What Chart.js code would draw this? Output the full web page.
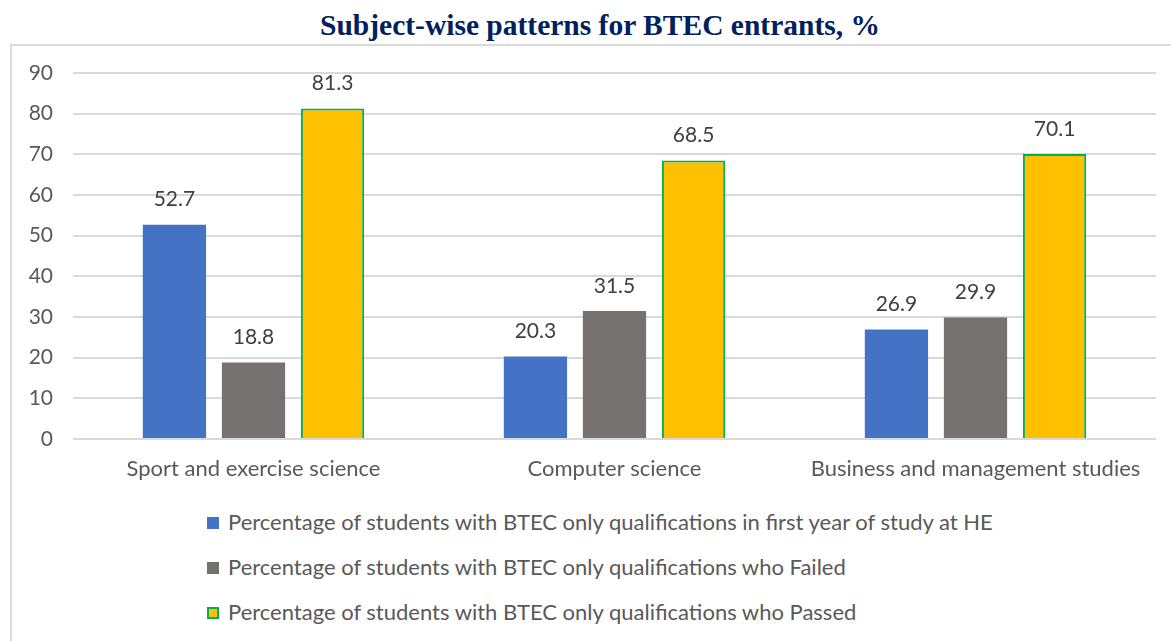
<!DOCTYPE html>
<html>
<head>
<meta charset="utf-8">
<script src="https://cdn.jsdelivr.net/npm/chart.js@4.4.0/dist/chart.umd.min.js"></script>
<style>
  body { margin: 0; background: #fff; width: 1171px; height: 641px; overflow: hidden; position: relative; font-family: Lato, "Open Sans", sans-serif; }
  #frame { position: absolute; left: 10px; top: 44px; width: 1200px; height: 700px; border: 2px solid #d9d9d9; box-sizing: border-box; }
  #title { position: absolute; left: 0; top: 9px; width: 1200px; text-align: center; font-family: "Liberation Serif", "DejaVu Serif", serif; font-weight: bold; font-size: 29.5px; color: #002060; }
  #wrap { position: absolute; left: 0; top: 0; width: 1171px; height: 490px; }
  #legend { position: absolute; left: 207px; top: 508px; }
  .item { height: 45px; display: flex; align-items: flex-start; font-size: 22px; color: #595959; }
  .box { width: 12px; height: 12px; margin: 9px 9px 0 0; box-sizing: border-box; }
</style>
</head>
<body>
<div id="frame"></div>
<div id="title">Subject-wise patterns for BTEC entrants, %</div>
<div id="wrap"><canvas id="chart"></canvas></div>
<div id="legend"></div>
<script>
// Chart data
const subjects = ['Sport and exercise science', 'Computer science', 'Business and management studies'];
const firstYear = [52.7, 20.3, 26.9];
const failed = [18.8, 31.5, 29.9];
const passed = [81.3, 68.5, 70.1];
const seriesNames = [
    'Percentage of students with BTEC only qualifications in first year of study at HE',
    'Percentage of students with BTEC only qualifications who Failed',
    'Percentage of students with BTEC only qualifications who Passed'
];

const fontFamily = 'Lato, "Open Sans", sans-serif';

// Draws the value above each bar
const valueLabels = {
    id: 'valueLabels',
    afterDatasetsDraw(chart) {
        const ctx = chart.ctx;
        ctx.save();
        ctx.font = '21px ' + fontFamily;
        ctx.fillStyle = '#404040';
        ctx.textAlign = 'center';
        ctx.textBaseline = 'middle';
        chart.data.datasets.forEach((ds, i) => {
            chart.getDatasetMeta(i).data.forEach((bar, j) => {
                ctx.fillText(ds.data[j].toFixed(1), bar.x, bar.y - 25);
            });
        });
        ctx.restore();
    }
};

const datasets = [
    { label: seriesNames[0], data: firstYear, backgroundColor: '#4472C4', borderColor: '#4472C4', borderWidth: 0 },
    { label: seriesNames[1], data: failed, backgroundColor: '#767171', borderColor: '#767171', borderWidth: 0 },
    { label: seriesNames[2], data: passed, backgroundColor: '#FFC000', borderColor: '#00B050', borderWidth: 2 }
];

new Chart(document.getElementById('chart'), {
    type: 'bar',
    data: { labels: subjects, datasets: datasets },
    options: {
        responsive: true,
        maintainAspectRatio: false,
        animation: false,
        layout: { padding: { top: 73, right: 15, left: 0, bottom: 0 } },
        plugins: {
            legend: { display: false },
            tooltip: { enabled: false }
        },
        datasets: { bar: { categoryPercentage: 0.657, barPercentage: 0.8 } },
        scales: {
            x: {
                grid: { display: false, drawTicks: false },
                border: { display: false },
                ticks: { color: '#595959', font: { family: fontFamily, size: 22 }, padding: 17 },
                afterFit(scale) { scale.height = 51; }
            },
            y: {
                min: 0,
                max: 90,
                ticks: { stepSize: 10, color: '#595959', font: { family: fontFamily, size: 21 }, padding: 20 },
                grid: { color: '#d9d9d9', lineWidth: 2, drawTicks: false },
                border: { display: false },
                afterFit(scale) { scale.width = 73; }
            }
        }
    },
    plugins: [valueLabels]
});

// Legend below the chart
document.getElementById('legend').innerHTML = datasets.map(ds => `
    <div class="item">
        <div class="box" style="background:${ds.backgroundColor};border:${ds.borderWidth ? '2px solid ' + ds.borderColor : 'none'}"></div>
        <span>${ds.label}</span>
    </div>
`).join('');
</script>
</body>
</html>
